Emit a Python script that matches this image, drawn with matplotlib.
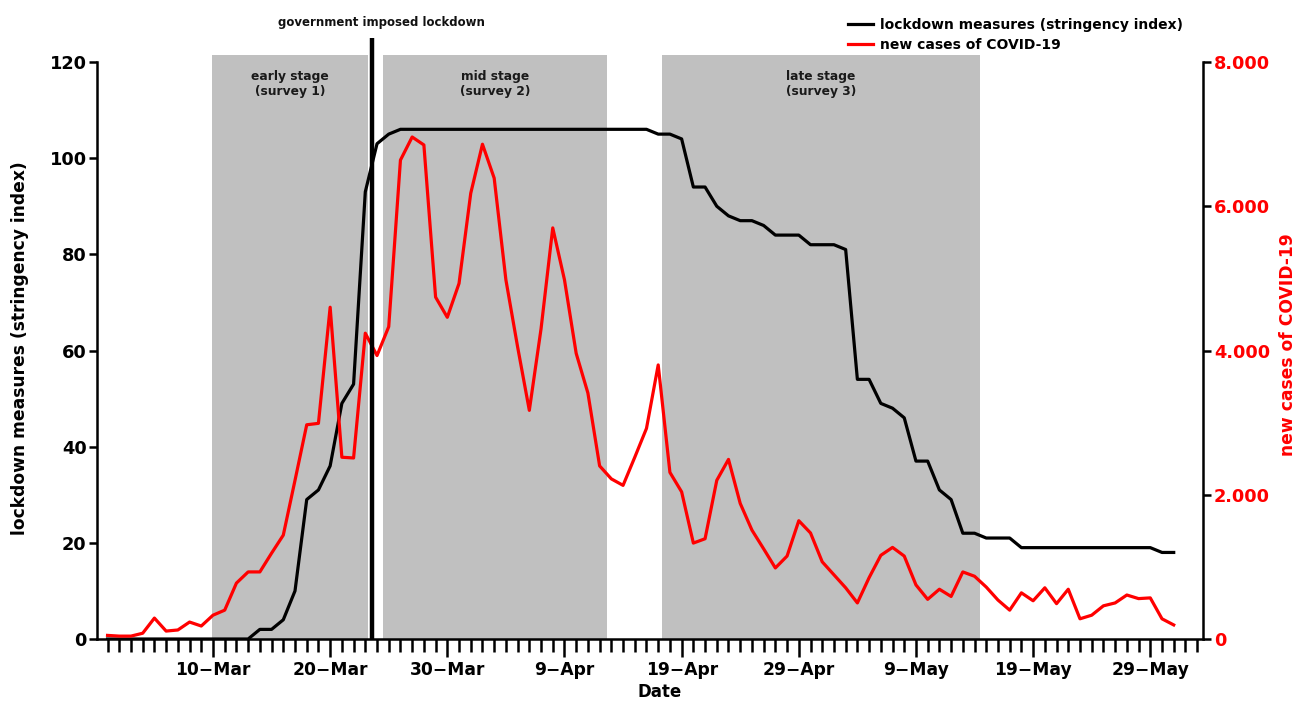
import numpy as np
import matplotlib
matplotlib.use('Agg')
import matplotlib.pyplot as plt
from matplotlib.patches import Rectangle
from matplotlib.ticker import FixedLocator, FuncFormatter

plt.rcParams['font.family'] = ['DejaVu Sans']
plt.rcParams['font.weight'] = 'bold'

# day index: 0 = 1 March 2020 ... 91 = 31 May 2020
days = np.arange(92)

stringency = [0, 0, 0, 0, 0, 0, 0, 0, 0, 0, 0, 0,
              0, 2, 2, 4, 10, 29, 31, 36, 49, 53, 93, 103, 105,
              106, 106, 106, 106, 106, 106, 106, 106, 106, 106, 106,
              106, 106, 106, 106, 106, 106, 106, 106, 106, 106, 106,
              105, 105, 104, 94, 94, 90, 88, 87, 87, 86, 84, 84, 84,
              82, 82, 82, 81, 54, 54, 49, 48, 46, 37, 37, 31, 29,
              22, 22, 21, 21, 21, 19, 19, 19, 19, 19, 19, 19, 19,
              19, 19, 19, 19, 18, 18]

new_cases = [50, 40, 40, 80, 290, 110, 125, 235, 180, 330,
             400, 775, 930, 930, 1190, 1440, 2200, 2970, 2990, 4600,
             2520, 2510, 4240, 3930, 4330, 6640, 6960, 6850, 4740, 4460,
             4930, 6180, 6860, 6390, 4980, 4050, 3170, 4300, 5700, 4980,
             3960, 3410, 2400, 2220, 2130, 2520, 2920, 3800, 2310, 2040,
             1330, 1390, 2200, 2490, 1880, 1510, 1250, 985, 1150, 1640,
             1470, 1070, 890, 710, 500, 850, 1160, 1270, 1150, 750,
             550, 690, 590, 930, 870, 720, 540, 400, 640, 530,
             710, 490, 690, 280, 330, 460, 500, 610, 560, 570,
             280, 195]

tick_days = [9, 19, 29, 39, 49, 59, 69, 79, 89]
tick_labels = ['10\u2212Mar', '20\u2212Mar', '30\u2212Mar', '9\u2212Apr', '19\u2212Apr',
               '29\u2212Apr', '9\u2212May', '19\u2212May', '29\u2212May']

stage_names = ['early stage\n(survey 1)', 'mid stage\n(survey 2)', 'late stage\n(survey 3)']
stage_start = [8.9, 23.5, 47.3]
stage_end = [22.2, 42.6, 74.5]
lockdown_day = 22.55

W, H = 1301, 706
fig = plt.figure(figsize=(W / 100, H / 100), dpi=100)
ax = fig.add_axes([97 / W, 1 - 639 / H, (1203 - 97) / W, 577 / H])
ax2 = ax.twinx()

trans = ax.get_xaxis_transform()
for s, e, name in zip(stage_start, stage_end, stage_names):
    ax.add_patch(Rectangle((s, 0), e - s, 1.012, transform=trans, facecolor='#c0c0c0',
                           edgecolor='none', clip_on=False, zorder=0))
    ax.text((s + e) / 2, 0.962, name, transform=trans, ha='center', va='center',
            fontsize=8.8, fontweight='bold', linespacing=1.2, color='#1a1a1a', zorder=1)

l1, = ax.plot(days, stringency, color='black', lw=2.3, zorder=3,
              label='lockdown measures (stringency index)')
l2, = ax2.plot(days, new_cases, color='red', lw=2.3, zorder=3,
               label='new cases of COVID-19')

t2 = ax2.get_xaxis_transform()
ax2.plot([lockdown_day, lockdown_day], [0, 1.0416], transform=t2, color='black',
         lw=3.2, clip_on=False, zorder=6, solid_capstyle='butt')
ax2.text(23.4, 1.069, 'government imposed lockdown', transform=t2, ha='center',
         va='center', fontsize=8.5, fontweight='bold', color='#111111')

ax.set_xlim(-0.9, 93.5)
ax.set_ylim(0, 120)
ax2.set_ylim(0, 8000)

ax.xaxis.set_major_locator(FixedLocator(tick_days))
ax.xaxis.set_major_formatter(FuncFormatter(lambda v, p: tick_labels[tick_days.index(int(round(v)))]
                                           if int(round(v)) in tick_days else ''))
ax.xaxis.set_minor_locator(FixedLocator(np.arange(0, 94)))
ax.set_yticks(np.arange(0, 121, 20))
ax2.set_yticks(np.arange(0, 8001, 2000))
ax2.yaxis.set_major_formatter(FuncFormatter(lambda v, p: f"{int(v):,}".replace(',', '.')))

ax.tick_params(axis='x', which='major', length=13, width=1.8, labelsize=12.3, pad=3)
ax.tick_params(axis='x', which='minor', length=9, width=1.8)
ax.tick_params(axis='y', length=6, width=1.8, labelsize=12.8, pad=1.5)
ax2.tick_params(axis='y', length=6, width=1.8, labelsize=12.8, pad=2, labelcolor='red')

for sp in ['top', 'right']:
    ax.spines[sp].set_visible(False)
for sp in ['top', 'left', 'bottom']:
    ax2.spines[sp].set_visible(False)
for sp in ['left', 'bottom']:
    ax.spines[sp].set_linewidth(1.8)
ax2.spines['right'].set_linewidth(1.8)

fig.text(20 / W, 1 - 348 / H, 'lockdown measures (stringency index)', rotation=90,
         ha='center', va='center', fontsize=12.3, fontweight='bold', color='black')
fig.text(1288 / W, 1 - 345 / H, 'new cases of COVID-19', rotation=90,
         ha='center', va='center', fontsize=12.3, fontweight='bold', color='red')
ax.set_xlabel('Date', fontsize=12, fontweight='bold')
ax.xaxis.set_label_coords((660 - 97) / 1106, (639 - 683) / 577)

fig.legend(handles=[l1, l2], loc='upper left', bbox_to_anchor=(848 / W, 1 - 18 / H),
           frameon=False, borderaxespad=0, borderpad=0, handlelength=1.8,
           handletextpad=0.5, labelspacing=0.45, fontsize=10)

fig.savefig('out.png', dpi=100)
